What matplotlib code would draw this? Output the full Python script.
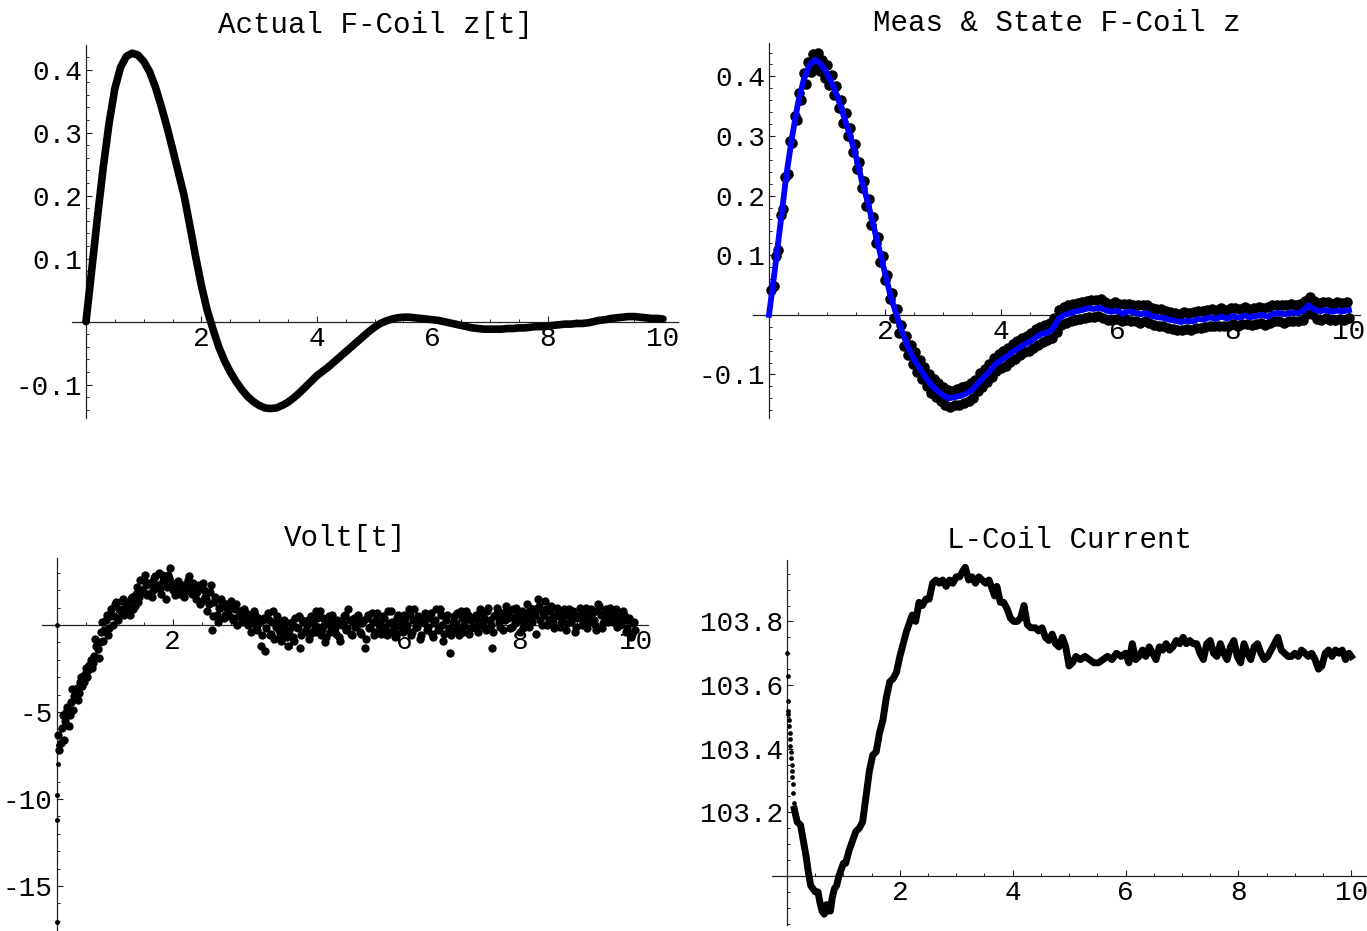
import numpy as np
import matplotlib
matplotlib.use("Agg")
import matplotlib.pyplot as plt
from matplotlib.ticker import MultipleLocator

plt.rcParams['font.family'] = ['Liberation Mono', 'DejaVu Sans Mono']

# --- Actual F-Coil z[t], sampled every 0.1 s
z_actual = [0.0, 0.083, 0.167, 0.246, 0.315, 0.37, 0.404, 0.421, 0.426, 0.423,
            0.413, 0.397, 0.373, 0.343, 0.31, 0.274, 0.237, 0.2, 0.152, 0.103,
            0.057, 0.018, -0.012, -0.04, -0.062, -0.08, -0.095, -0.108, -0.119, -0.127,
            -0.133, -0.137, -0.138, -0.137, -0.133, -0.128, -0.121, -0.113, -0.104, -0.095,
            -0.086, -0.079, -0.072, -0.064, -0.056, -0.048, -0.04, -0.032, -0.024, -0.016,
            -0.009, -0.003, 0.001, 0.004, 0.006, 0.007, 0.007, 0.006, 0.005, 0.004,
            0.003, 0.002, 0.0, -0.002, -0.004, -0.006, -0.008, -0.01, -0.011, -0.012,
            -0.012, -0.012, -0.012, -0.011, -0.011, -0.01, -0.01, -0.009, -0.008, -0.008,
            -0.007, -0.006, -0.005, -0.004, -0.004, -0.003, -0.003, -0.002, 0.0, 0.002,
            0.003, 0.005, 0.006, 0.007, 0.008, 0.008, 0.007, 0.006, 0.005, 0.005,
            0.004]

# --- estimated state (blue), every 0.1 s
z_state = [0.0, 0.075, 0.155, 0.235, 0.30, 0.355, 0.395, 0.42, 0.428, 0.42,
           0.405, 0.385, 0.36, 0.33, 0.30, 0.265, 0.225, 0.19, 0.15, 0.11,
           0.07, 0.03, 0.0, -0.03, -0.055, -0.075, -0.09, -0.105, -0.118, -0.127,
           -0.135, -0.14, -0.138, -0.136, -0.132, -0.126, -0.115, -0.105, -0.095, -0.083,
           -0.076, -0.07, -0.062, -0.056, -0.05, -0.045, -0.038, -0.032, -0.03, -0.022,
           -0.006, 0.0, 0.003, 0.006, 0.008, 0.011, 0.01, 0.012, 0.008, 0.005,
           0.007, 0.002, 0.006, 0.004, 0.001, 0.003, -0.002, -0.004, -0.005, -0.008,
           -0.01, -0.012, -0.01, -0.011, -0.007, -0.008, -0.004, -0.007, -0.003, -0.006,
           -0.002, -0.005, -0.001, -0.004, -0.002, 0.0, -0.003, 0.002, 0.003, 0.001,
           0.004, 0.003, 0.006, 0.016, 0.009, 0.006, 0.008, 0.005, 0.007, 0.006,
           0.008]

# --- measured z (black dots), every 0.04 s starting at 0.04
z_meas = [0.042, 0.048, 0.099, 0.108, 0.168, 0.178, 0.231, 0.236, 0.292, 0.288,
          0.334, 0.327, 0.372, 0.361, 0.405, 0.388, 0.424, 0.407, 0.438, 0.414,
          0.440, 0.409, 0.428, 0.398, 0.419, 0.386, 0.403, 0.368, 0.384, 0.347,
          0.361, 0.322, 0.339, 0.300, 0.314, 0.273, 0.287, 0.244, 0.256, 0.212,
          0.224, 0.183, 0.195, 0.151, 0.164, 0.121, 0.131, 0.089, 0.099, 0.058,
          0.067, 0.026, 0.036, -0.005, 0.009, -0.031, -0.017, -0.053, -0.036, -0.068,
          -0.050, -0.083, -0.063, -0.096, -0.075, -0.107, -0.088, -0.120, -0.099, -0.131,
          -0.108, -0.138, -0.115, -0.145, -0.121, -0.151, -0.126, -0.154, -0.127, -0.152,
          -0.124, -0.151, -0.121, -0.148, -0.119, -0.145, -0.114, -0.140, -0.109, -0.128,
          -0.098, -0.121, -0.090, -0.113, -0.082, -0.104, -0.072, -0.095, -0.066, -0.089,
          -0.061, -0.085, -0.055, -0.079, -0.049, -0.074, -0.044, -0.068, -0.038, -0.063,
          -0.035, -0.060, -0.030, -0.055, -0.024, -0.050, -0.020, -0.046, -0.017, -0.043,
          -0.014, -0.038, -0.006, -0.028, 0.008, -0.017, 0.013, -0.013, 0.016, -0.010,
          0.018, -0.009, 0.020, -0.007, 0.022, -0.005, 0.024, -0.003, 0.025, -0.004,
          0.025, -0.002, 0.026, -0.005, 0.022, -0.008, 0.019, -0.008, 0.021, -0.007,
          0.019, -0.011, 0.018, -0.008, 0.019, -0.010, 0.017, -0.010, 0.016, -0.013,
          0.016, -0.011, 0.016, -0.014, 0.012, -0.017, 0.010, -0.018, 0.009, -0.019,
          0.007, -0.022, 0.005, -0.024, 0.003, -0.026, 0.002, -0.025, 0.004, -0.024,
          0.003, -0.025, 0.005, -0.022, 0.007, -0.022, 0.006, -0.021, 0.008, -0.018,
          0.009, -0.019, 0.008, -0.018, 0.011, -0.018, 0.008, -0.019, 0.011, -0.016,
          0.011, -0.019, 0.010, -0.016, 0.013, -0.016, 0.010, -0.017, 0.012, -0.016,
          0.013, -0.014, 0.012, -0.017, 0.013, -0.013, 0.016, -0.011, 0.017, -0.011,
          0.016, -0.013, 0.016, -0.010, 0.018, -0.011, 0.017, -0.010, 0.019, -0.008,
          0.023, 0.001, 0.030, 0.002, 0.023, -0.007, 0.020, -0.008, 0.021, -0.006,
          0.021, -0.008, 0.019, -0.008, 0.021, -0.007, 0.020, -0.008, 0.021, -0.006]

# --- Volt[t]: first samples near t=0, then two interleaved runs every 0.04 s
volt_t0 = [0.0, 0.0, 0.005, 0.005, 0.01, 0.012, 0.02]
volt_v0 = [0.0, -17.1, -11.2, -9.8, -8.0, -6.9, -6.4]
volt_a = [-7.2, -5.9, -6.6, -5.0, -5.8, -4.4, -4.9, -3.8, -4.3, -3.3,
          -3.5, -2.8, -3.0, -2.3, -2.5, -1.8, -1.2, -1.9, -0.4, -0.9,
          0.3, -0.6, 0.5, 0.0, 1.2, 0.4, 0.9, 1.4, 0.6, 1.1,
          0.7, 1.5, 0.9, 1.8, 1.3, 2.6, 1.9, 2.9, 1.7, 2.4,
          1.6, 2.7, 2.1, 3.0, 1.8, 2.5, 1.5, 2.9, 3.3, 2.0,
          1.7, 2.2, 1.8, 2.3, 1.6, 2.0, 2.8, 1.9, 2.4, 1.5,
          2.2, 1.2, 2.4, 1.6, 0.8, 1.9, -0.3, 1.3, 0.6, 1.0,
          1.5, 0.4, 1.2, 0.7, 1.4, 0.3, 0.9, 0.0, 0.8, 0.2,
          0.9, 0.1, 0.6, -0.4, 0.8, -0.1, 0.4, -1.2, 0.3, -1.5,
          0.7, -0.6, 0.2, -0.8, 0.5, -0.3, -0.9, 0.3, -0.5, -1.2,
          0.1, -0.7, 0.4, -0.2, -1.3, 0.3, -0.4, 0.0, -0.8, 0.5,
          -0.3, 0.8, -0.1, -0.6, 0.4, -1.0, 0.2, -0.4, 0.6, -0.2,
          0.3, -0.7, 0.0, 0.5, -0.3, 0.9, -0.5, 0.2, -0.1, 0.6,
          -0.4, 0.1, -1.3, 0.4, -0.2, 0.7, -0.6, 0.3, 0.0, -0.5,
          0.5, -0.1, 0.8, -0.4, 0.2, -0.7, 0.4, 0.0, -0.3, 0.6,
          -0.2, 0.9, -0.6, 0.3, -0.1, 0.5, -0.8, 0.2, 0.7, -0.3,
          0.4, -0.5, 0.1, 0.9, -0.2, 0.6, -0.9, 0.3, -0.4, -1.6,
          0.2, -0.3, 0.7, -0.6, 0.4, 0.0, 0.8, -0.5, 0.3, -0.1,
          0.6, -0.4, 0.9, 0.1, -0.2, 0.8, 0.3, -1.3, 0.5, 1.0,
          0.2, 0.7, -0.3, 1.1, 0.4, -0.2, 0.9, 0.1, 0.6, -0.4,
          0.8, 0.2, 1.2, -0.1, 0.6, 0.9, -0.5, 1.5, 0.3, 0.7,
          1.4, 0.0, 0.8, 0.4, -0.2, 1.0, 0.5, 0.1, 0.9, -0.3,
          0.6, 0.2, 0.8, -0.4, 0.4, 1.0, 0.0, 0.7, -0.2, 0.5,
          0.9, 0.3, -0.3, 1.2, 0.6, 0.1, 0.8, 0.2, 1.0, 0.4,
          0.7, -0.1, 0.5, 0.2, 0.6, -0.4, 0.3, -0.7, 0.1, -0.3]
volt_b = [-6.3, -6.8, -5.2, -5.5, -4.7, -5.2, -3.7, -4.1, -3.6, -3.9,
          -3.0, -3.3, -2.5, -2.6, -2.0, -2.2, -0.8, -1.4, -1.0, 0.2,
          -0.3, 0.6, -0.2, 0.9, 0.5, 1.3, 0.3, 0.8, 1.5, 0.9,
          1.2, 0.6, 1.6, 1.1, 2.2, 1.6, 2.0, 2.6, 2.3, 1.8,
          2.4, 2.0, 2.8, 2.3, 2.1, 2.9, 2.6, 2.2, 2.7, 2.4,
          2.0, 1.9, 2.5, 2.1, 1.9, 2.3, 2.6, 2.2, 1.8, 2.1,
          1.9, 2.3, 1.4, 2.0, 1.5, 1.2, 2.3, 0.5, 1.6, 0.2,
          1.0, 1.3, 0.6, 1.0, 0.5, 1.1, 0.4, 1.2, 0.5, 0.8,
          0.4, 0.7, 0.0, 0.5, 0.2, 0.6, -0.3, 0.1, -0.6, 0.4,
          -0.2, 0.3, -0.5, 0.8, -0.1, 0.2, -0.6, -0.2, 0.1, -0.7,
          -0.3, 0.2, -0.9, -0.1, 0.5, -0.6, 0.2, -0.3, 0.3, -0.5,
          0.1, -0.4, 0.4, 0.8, -0.3, 0.0, -0.7, 0.5, -0.1, 0.3,
          -0.5, 0.2, -0.9, 0.1, 0.6, -0.2, 0.3, -0.6, 0.4, 0.0,
          0.2, -0.5, 0.3, -0.8, 0.6, -0.1, 0.2, -0.4, 0.7, 0.1,
          -0.3, 0.4, -0.6, 0.1, 0.8, -0.2, -0.5, 0.6, 0.2, -0.4,
          0.4, 0.0, 0.6, -0.4, 0.9, -0.1, 0.3, -0.6, 0.1, 0.5,
          -0.1, 0.7, -0.7, 0.3, -0.3, 0.9, 0.0, -0.5, 0.6, -0.2,
          -0.6, 0.5, 0.1, -0.2, 0.8, -0.4, 0.3, 0.6, -0.2, 0.4,
          -0.2, 0.3, 0.0, 0.7, 0.4, -0.3, 1.0, 0.0, -0.4, 0.6,
          0.8, -0.1, 0.5, 0.3, 0.9, 0.6, -0.1, 0.4, 1.0, 0.3,
          0.5, -0.2, 0.7, 0.4, 1.0, 0.2, 0.6, 0.9, 1.1, 0.0,
          0.6, 0.9, 0.3, 1.1, 0.2, 0.5, 0.7, -0.1, 0.4, 0.8,
          0.1, 0.9, 0.4, 0.6, -0.1, 0.5, 0.7, 0.3, 1.0, 0.2,
          0.4, 0.7, 0.0, 0.8, 1.1, -0.2, 0.5, 0.9, 0.3, 0.6,
          0.2, 0.9, 0.4, 0.0, 0.8, 0.3, -0.2, 0.4, -0.5, 0.2]

# --- L-Coil current: isolated early samples, then the dense trace
cur_t0 = [0.0, 0.01, 0.015, 0.02, 0.025, 0.03, 0.04, 0.045, 0.05, 0.06,
          0.065, 0.07, 0.08, 0.085, 0.09, 0.1, 0.11, 0.12]
cur_i0 = [103.70, 103.63, 103.55, 103.52, 103.51, 103.49, 103.47, 103.45, 103.43, 103.41,
          103.39, 103.37, 103.35, 103.33, 103.31, 103.29, 103.26, 103.23]
cur_t = [0.13, 0.18, 0.24, 0.28, 0.34, 0.38, 0.42, 0.46, 0.50, 0.55,
         0.58, 0.62, 0.66, 0.70, 0.73, 0.77, 0.80, 0.84, 0.88, 0.92,
         0.96, 1.00, 1.04, 1.10, 1.16, 1.22, 1.28, 1.34, 1.40, 1.46,
         1.52, 1.58, 1.64, 1.70, 1.76, 1.82, 1.88, 1.94, 2.00, 2.06,
         2.12, 2.18, 2.22, 2.28, 2.34, 2.40, 2.46, 2.52, 2.58, 2.64,
         2.70, 2.76, 2.82, 2.88, 2.94, 3.00, 3.06, 3.12, 3.16, 3.22,
         3.28, 3.34, 3.40, 3.46, 3.52, 3.58, 3.62, 3.68, 3.72, 3.78,
         3.84, 3.90, 3.96, 4.02, 4.08, 4.14, 4.20, 4.26, 4.32, 4.40,
         4.46, 4.52, 4.58, 4.64, 4.70, 4.76, 4.82, 4.88, 4.94, 5.00,
         5.06, 5.12, 5.20, 5.28, 5.36, 5.44, 5.52, 5.60, 5.68, 5.76,
         5.84, 5.92, 6.00, 6.06, 6.12, 6.18, 6.24, 6.30, 6.36, 6.42,
         6.48, 6.54, 6.60, 6.66, 6.72, 6.78, 6.84, 6.90, 6.96, 7.02,
         7.08, 7.14, 7.20, 7.26, 7.32, 7.38, 7.44, 7.50, 7.56, 7.62,
         7.68, 7.74, 7.80, 7.86, 7.92, 7.98, 8.04, 8.10, 8.16, 8.22,
         8.28, 8.34, 8.40, 8.46, 8.52, 8.58, 8.64, 8.70, 8.76, 8.82,
         8.88, 8.94, 9.00, 9.06, 9.12, 9.18, 9.24, 9.30, 9.36, 9.42,
         9.48, 9.54, 9.60, 9.66, 9.72, 9.78, 9.84, 9.90, 9.96, 10.00]
cur_i = [103.21, 103.17, 103.16, 103.12, 103.06, 103.01, 102.97, 102.96, 102.95, 102.95,
         102.92, 102.89, 102.88, 102.91, 102.89, 102.89, 102.93, 102.96, 102.97, 103.00,
         103.02, 103.04, 103.04, 103.08, 103.11, 103.14, 103.15, 103.17, 103.25, 103.33,
         103.38, 103.39, 103.45, 103.49, 103.56, 103.61, 103.62, 103.64, 103.69, 103.73,
         103.77, 103.80, 103.82, 103.80, 103.86, 103.85, 103.87, 103.87, 103.92, 103.93,
         103.92, 103.93, 103.91, 103.93, 103.92, 103.94, 103.94, 103.96, 103.97, 103.93,
         103.94, 103.92, 103.94, 103.93, 103.92, 103.93, 103.91, 103.88, 103.91, 103.86,
         103.86, 103.84, 103.81, 103.80, 103.80, 103.81, 103.85, 103.79, 103.78, 103.78,
         103.77, 103.78, 103.75, 103.74, 103.76, 103.73, 103.72, 103.75, 103.72, 103.66,
         103.67, 103.69, 103.68, 103.69, 103.68, 103.67, 103.67, 103.68, 103.69, 103.68,
         103.70, 103.69, 103.70, 103.67, 103.73, 103.68, 103.69, 103.71, 103.69, 103.72,
         103.70, 103.68, 103.72, 103.71, 103.73, 103.71, 103.72, 103.74, 103.73, 103.75,
         103.73, 103.74, 103.73, 103.73, 103.70, 103.68, 103.73, 103.74, 103.70, 103.69,
         103.73, 103.70, 103.68, 103.72, 103.74, 103.69, 103.67, 103.73, 103.70, 103.68,
         103.72, 103.73, 103.70, 103.68, 103.69, 103.71, 103.73, 103.75, 103.71, 103.70,
         103.69, 103.69, 103.70, 103.69, 103.71, 103.70, 103.69, 103.70, 103.68, 103.65,
         103.66, 103.70, 103.71, 103.69, 103.71, 103.70, 103.71, 103.68, 103.70, 103.69]

W, H = 1367, 931
fig = plt.figure(figsize=(W / 100, H / 100), dpi=100)


def make_axes(px_left, px_right, px_top, px_bottom):
    return fig.add_axes([px_left / W, 1 - px_bottom / H,
                         (px_right - px_left) / W, (px_bottom - px_top) / H])


def style(ax, title, origin_y, xminor, yminor, yticks, ylabels):
    for s in ('top', 'right'):
        ax.spines[s].set_visible(False)
    ax.spines['left'].set_position(('data', 0))
    ax.spines['bottom'].set_position(('data', origin_y))
    for s in ('left', 'bottom'):
        ax.spines[s].set_color('#222222')
        ax.spines[s].set_linewidth(0.9)
        ax.spines[s].set_zorder(1)
    ax.set_xticks([2, 4, 6, 8, 10])
    ax.set_xticklabels(['2', '4', '6', '8', '10'])
    ax.set_yticks(yticks)
    ax.set_yticklabels(ylabels)
    ax.xaxis.set_minor_locator(MultipleLocator(xminor))
    ax.yaxis.set_minor_locator(MultipleLocator(yminor))
    ax.tick_params(which='major', direction='in', length=4, width=0.8,
                   labelsize=20, color='#222222')
    ax.tick_params(which='minor', direction='in', length=2.2, width=0.7,
                   color='#222222')
    ax.tick_params(axis='x', pad=3)
    ax.tick_params(axis='y', pad=3)
    ax.set_facecolor('none')
    ax.set_title(title, fontsize=21, pad=9)


# top left
ax1 = make_axes(72, 678, 45, 418)
t1 = np.linspace(0, 10, len(z_actual))
ax1.plot(t1, z_actual, color='black', lw=5.5, solid_capstyle='round',
         solid_joinstyle='round')
ax1.set_xlim(-0.243, 10.26)
ax1.set_ylim(-0.153, 0.439)
style(ax1, 'Actual F-Coil z[t]', 0, 0.5, 0.02,
      [-0.1, 0.1, 0.2, 0.3, 0.4], ['-0.1', '0.1', '0.2', '0.3', '0.4'])

# top right
ax2 = make_axes(753, 1360, 43, 418)
t_meas = 0.04 * np.arange(1, len(z_meas) + 1)
t_state = np.linspace(0, 10, len(z_state))
ax2.plot(t_meas, z_meas, 'o', color='black', ms=7.6, mew=0)
ax2.plot(t_state, z_state, color='#0000ff', lw=4.2, solid_joinstyle='round')
ax2.set_xlim(-0.276, 10.19)
ax2.set_ylim(-0.173, 0.456)
style(ax2, 'Meas & State F-Coil z', 0, 0.5, 0.02,
      [-0.1, 0.1, 0.2, 0.3, 0.4], ['-0.1', '0.1', '0.2', '0.3', '0.4'])

# bottom left
ax3 = make_axes(42, 648, 558, 931)
t_volt_a = 0.04 * np.arange(1, len(volt_a) + 1)
t_volt_b = 0.04 * np.arange(len(volt_b)) + 0.02
ax3.plot(volt_t0, volt_v0, 'o', color='black', ms=3.6, mew=0, clip_on=False)
ax3.plot(t_volt_a, volt_a, 'o', color='black', ms=6, mew=0)
ax3.plot(t_volt_b, volt_b, 'o', color='black', ms=6, mew=0)
ax3.set_xlim(-0.26, 10.22)
ax3.set_ylim(-17.59, 3.85)
style(ax3, 'Volt[t]', 0, 0.5, 1,
      [-15, -10, -5], ['-15', '-10', '-5'])

# bottom right
ax4 = make_axes(772, 1367, 560, 925)
ax4.plot(cur_t0, cur_i0, 'o', color='black', ms=3.4, mew=0)
ax4.plot(cur_t, cur_i, color='black', lw=5, solid_joinstyle='round')
ax4.set_xlim(-0.266, 10.28)
ax4.set_ylim(102.846, 103.993)
style(ax4, 'L-Coil Current', 103.0, 0.5, 0.05,
      [103.2, 103.4, 103.6, 103.8], ['103.2', '103.4', '103.6', '103.8'])

fig.savefig('out.png', dpi=100)
